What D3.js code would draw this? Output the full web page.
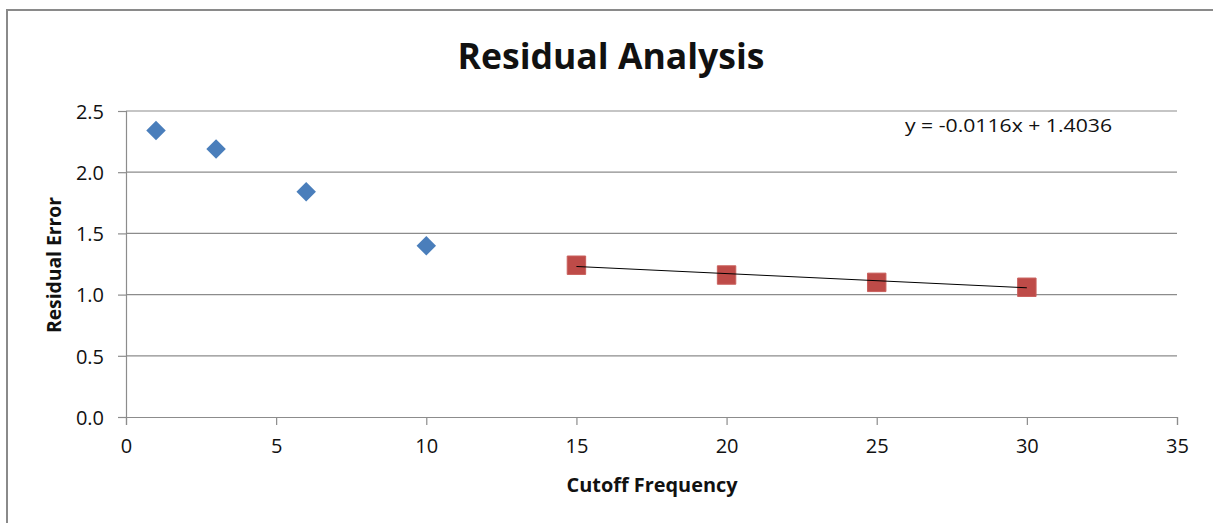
<!DOCTYPE html>
<html>
<head>
<meta charset="utf-8">
<script src="https://cdn.jsdelivr.net/npm/d3@7"></script>
<style>
  body { margin: 0; background: #fff; }
  text { font-family: "Open Sans", sans-serif; fill: #111; }
</style>
</head>
<body>
<div id="container"></div>
<script>
/* CONSTANTS AND GLOBALS */
const width = 1213;
const height = 523;
const margin = {top: 111, bottom: 106, left: 126, right: 36};

/* DATA */
const lowX = [1, 3, 6, 10];
const lowY = [2.34, 2.19, 1.84, 1.40];
const highX = [15, 20, 25, 30];
const highY = [1.24, 1.16, 1.10, 1.06];
const xTicks = [0, 5, 10, 15, 20, 25, 30, 35];
const yTicks = [0.0, 0.5, 1.0, 1.5, 2.0, 2.5];
const slope = -0.0116;
const intercept = 1.4036;

const svg = d3.select("#container")
  .append("svg")
  .attr("width", width)
  .attr("height", height);

// chart frame
svg.append("rect")
  .attr("x", 7).attr("y", 10)
  .attr("width", 1300).attr("height", 700)
  .attr("fill", "none")
  .attr("stroke", "#8a8a8a")
  .attr("stroke-width", 2);

/* SCALES */
const xScale = d3.scaleLinear()
  .domain([0, 35])
  .range([margin.left, width - margin.right]);

const yScale = d3.scaleLinear()
  .domain([0, 2.5])
  .range([height - margin.bottom, margin.top]);

// gridlines
svg.append("g")
  .selectAll("line")
  .data(yTicks.filter(d => d > 0))
  .join("line")
  .attr("x1", xScale(0))
  .attr("x2", xScale(35))
  .attr("y1", d => yScale(d))
  .attr("y2", d => yScale(d))
  .attr("stroke", "#8c8c8c")
  .attr("stroke-width", 1.2);

// y axis
const yAxis = d3.axisLeft(yScale)
  .tickValues(yTicks)
  .tickFormat(d3.format(".1f"))
  .tickSize(8)
  .tickPadding(14);
const gy = svg.append("g")
  .attr("transform", `translate(${margin.left},0)`)
  .call(yAxis);
gy.select(".domain").attr("stroke", "#8c8c8c").attr("stroke-width", 1.2);
gy.selectAll(".tick line").attr("stroke", "#8c8c8c").attr("stroke-width", 1.2);
gy.selectAll("text").style("font-size", "20px").attr("fill", "#222").attr("dy", "0.36em");

// x axis
const xAxis = d3.axisBottom(xScale)
  .tickValues(xTicks)
  .tickSize(8)
  .tickPadding(14);
const gx = svg.append("g")
  .attr("transform", `translate(0,${height - margin.bottom})`)
  .call(xAxis);
gx.select(".domain").attr("stroke", "#8c8c8c").attr("stroke-width", 1.2);
gx.selectAll(".tick line").attr("stroke", "#8c8c8c").attr("stroke-width", 1.2);
gx.selectAll("text").style("font-size", "20px").attr("fill", "#222");

// title
svg.append("text")
  .attr("x", 611)
  .attr("y", 69)
  .attr("text-anchor", "middle")
  .style("font-size", "35px")
  .style("font-weight", "bold")
  .attr("textLength", 307)
  .attr("lengthAdjust", "spacingAndGlyphs")
  .text("Residual Analysis");

// axis labels
svg.append("text")
  .attr("x", 652)
  .attr("y", 492)
  .attr("text-anchor", "middle")
  .style("font-size", "19px")
  .style("font-weight", "bold")
  .attr("textLength", 171)
  .attr("lengthAdjust", "spacingAndGlyphs")
  .text("Cutoff Frequency");

svg.append("text")
  .attr("transform", "translate(61,265) rotate(-90)")
  .attr("text-anchor", "middle")
  .style("font-size", "19px")
  .style("font-weight", "bold")
  .attr("textLength", 136)
  .attr("lengthAdjust", "spacingAndGlyphs")
  .text("Residual Error");

// diamonds
const diamond = d3.symbol().type(d3.symbolSquare).size(190);
svg.append("g")
  .selectAll("path")
  .data(lowX.map((x, i) => ({x: x, y: lowY[i]})))
  .join("path")
  .attr("d", diamond)
  .attr("transform", d => `translate(${xScale(d.x)},${yScale(d.y)}) rotate(45)`)
  .attr("fill", "#4a7ebb");

// squares
const square = d3.symbol().type(d3.symbolSquare).size(340);
svg.append("g")
  .selectAll("path")
  .data(highX.map((x, i) => ({x: x, y: highY[i]})))
  .join("path")
  .attr("d", square)
  .attr("transform", d => `translate(${xScale(d.x)},${yScale(d.y)})`)
  .attr("fill", "#be4b48")
  .attr("stroke", "#c9605d")
  .attr("stroke-width", 1);

// linear trendline
const xMin = d3.min(highX), xMax = d3.max(highX);
svg.append("line")
  .attr("x1", xScale(xMin))
  .attr("x2", xScale(xMax))
  .attr("y1", yScale(slope * xMin + intercept))
  .attr("y2", yScale(slope * xMax + intercept))
  .attr("stroke", "#000")
  .attr("stroke-width", 1);

svg.append("text")
  .attr("x", 905)
  .attr("y", 132)
  .style("font-size", "19px")
  .attr("textLength", 207)
  .attr("lengthAdjust", "spacingAndGlyphs")
  .text(`y = ${slope}x + ${intercept}`);
</script>
</body>
</html>
